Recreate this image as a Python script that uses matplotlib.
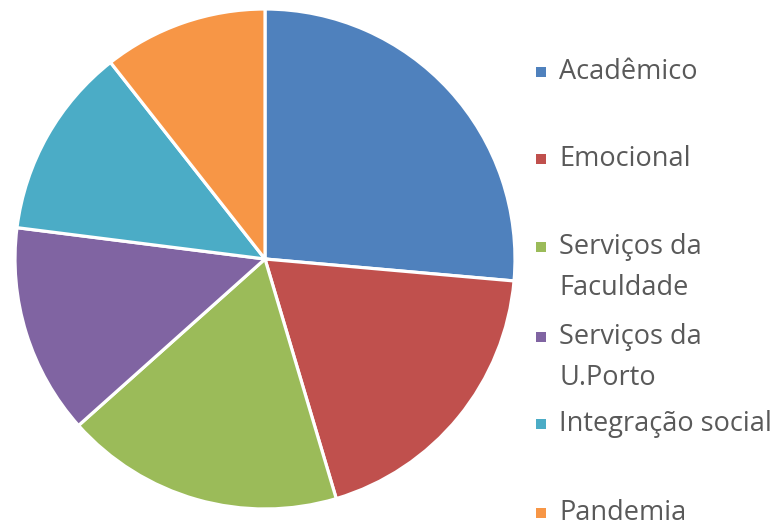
import matplotlib
matplotlib.use("Agg")
import matplotlib.pyplot as plt
from matplotlib.patches import Rectangle

categories = ["Acadêmico", "Emocional", "Serviços da\nFaculdade", "Serviços da\nU.Porto",
              "Integração social", "Pandemia"]
values = [26.4, 19.0, 18.0, 13.6, 12.4, 10.6]
colors = ["#4F81BD", "#C0504D", "#9BBB59", "#8064A2", "#4BACC6", "#F79646"]

W, H = 783, 525
fig = plt.figure(figsize=(W / 100, H / 100), dpi=100)
cx, cy, r = 265, 259, 250
ax = fig.add_axes([(cx - r) / W, 1 - (cy + r) / H, 2 * r / W, 2 * r / H])
ax.pie(values, colors=colors, startangle=90, counterclock=False,
       wedgeprops=dict(edgecolor="white", linewidth=2.3), radius=1.0)
ax.set_xlim(-1, 1)
ax.set_ylim(-1, 1)
ax.set_aspect("auto")
ax.axis("off")

# legend drawn manually to match irregular spacing (first-line centre y)
rows_y = [72, 159, 247, 337, 424, 513]
for cat, col, yc in zip(categories, colors, rows_y):
    fig.patches.append(Rectangle((536 / W, 1 - (yc + 5) / H),
                                 10 / W, 10 / H, transform=fig.transFigure,
                                 facecolor=col, edgecolor="none"))
    fig.text(559 / W, 1 - (yc - 14) / H, cat, fontsize=19.5, color="#595959",
             family="Open Sans", va="top", ha="left", linespacing=1.6)

fig.savefig("out.png", dpi=100)
